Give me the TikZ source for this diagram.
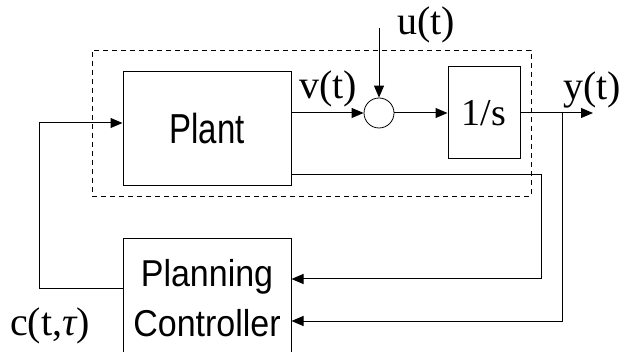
\documentclass[tikz,border=0pt]{standalone}
\usepackage{fontspec}
\setmainfont{Liberation Serif}
\newfontfamily\arialfont{Liberation Sans}
\usetikzlibrary{positioning,arrows.meta,shapes.geometric}

\begin{document}
\begin{tikzpicture}[
  x=1pt, y=-1pt,
  every node/.style={align=center},
  block/.style={draw, line width=1pt, minimum width=168pt, minimum height=114pt, inner sep=0pt},
  smallblock/.style={draw, line width=1pt, minimum width=72pt, minimum height=92pt, inner sep=0pt},
  sumpt/.style={draw, circle, line width=0.8pt, minimum size=30pt, inner sep=0pt},
  sysbox/.style={draw, dash pattern=on 5pt off 4pt, line width=0.8pt, minimum width=439pt, minimum height=146pt, inner sep=0pt},
  sig/.style={font=\fontsize{40}{44}\selectfont, inner sep=0pt},
  line/.style={line width=1pt},
  arr/.style={line width=1pt, -{Triangle[length=12pt,width=10pt]}}
]
\useasboundingbox (0,0) rectangle (623,352);

\node[sysbox] (system) at (311.5,123) {};
\node[block] (plant) at (207,129) {\arialfont\fontsize{33}{40}\selectfont\scalebox{1}[1.27]{Plant}};
\node[sumpt] (sum) at (379,113) {};
\node[smallblock, font=\fontsize{38}{44}\selectfont] (integ) at (484,113) {1/s};
\node[block, minimum height=118pt, font=\arialfont\fontsize{34}{50}\selectfont] (ctrl) at (207,298)
  {\scalebox{1}[1.1]{Planning}\\\scalebox{1}[1.1]{Controller}};

\coordinate (uin) at (379,28);
\coordinate (yout) at (593,113);
\coordinate (branch) at (562,113);

\node[sig] (ulabel) at (426,25) {u(t)};
\node[sig] (vlabel) at (328,89) {v(t)};
\node[sig] (ylabel) at (592,90) {y(t)};
\node[sig] (clabel) at (50,326) {c(t,{\itshape τ})};

\draw[arr] (plant.east |- sum) -- (sum);
\draw[arr] (uin) -- (sum.north);
\draw[arr] (sum) -- (integ);
\draw[arr] (integ.east) -- (yout);
\draw[arr] (branch) |- ([yshift=-23pt]ctrl.east);
\draw[arr] ([yshift=-46pt]plant.east) -- ++(250,0) |- ([yshift=19pt]ctrl.east);
\draw[arr] ([yshift=9pt]ctrl.west) -- ++(-83,0) |- ([yshift=6pt]plant.west);
\end{tikzpicture}
\end{document}
